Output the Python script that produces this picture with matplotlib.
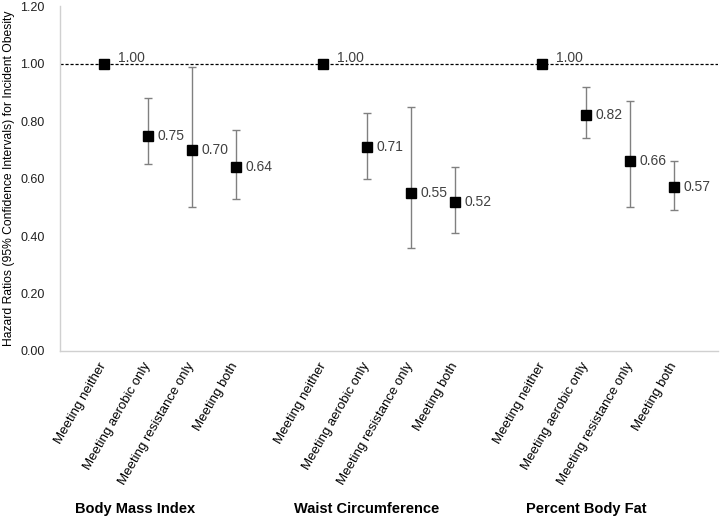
import matplotlib.pyplot as plt

plt.rcParams['font.family'] = ['Liberation Sans', 'DejaVu Sans']

# data
groups = ["Body Mass Index", "Waist Circumference", "Percent Body Fat"]
categories = ["Meeting neither", "Meeting aerobic only", "Meeting resistance only", "Meeting both"]
hr_bmi = [1.00, 0.75, 0.70, 0.64]
lo_bmi = [1.00, 0.65, 0.50, 0.53]
hi_bmi = [1.00, 0.88, 0.99, 0.77]
hr_wc = [1.00, 0.71, 0.55, 0.52]
lo_wc = [1.00, 0.60, 0.36, 0.41]
hi_wc = [1.00, 0.83, 0.85, 0.64]
hr_pbf = [1.00, 0.82, 0.66, 0.57]
lo_pbf = [1.00, 0.74, 0.50, 0.49]
hi_pbf = [1.00, 0.92, 0.87, 0.66]
yticks = [0.0, 0.2, 0.4, 0.6, 0.8, 1.0, 1.2]

fig = plt.figure(figsize=(7.25, 5.3), dpi=100)
ax = fig.add_axes([0.083, 0.338, 0.907, 0.65])

series = [(hr_bmi, lo_bmi, hi_bmi), (hr_wc, lo_wc, hi_wc), (hr_pbf, lo_pbf, hi_pbf)]
all_x = []
group_centers = [1.7, 7.0, 12.0]
for g, (hr, lo, hi) in enumerate(series):
    xs = [g * 5 + i + 1 for i in range(len(hr))]
    all_x += xs
    # only draw bars where there is an interval
    for x, h, l, u in zip(xs, hr, lo, hi):
        if u > l:
            ax.errorbar(x, h, yerr=[[h - l], [u - h]], fmt='none', ecolor='#808080',
                        elinewidth=1, capsize=3, capthick=1, zorder=2)
    ax.plot(xs, hr, linestyle='none', marker='s', markersize=7.5, color='black', zorder=3)
    for i, (x, h) in enumerate(zip(xs, hr)):
        if i == 0:
            ax.annotate("%.2f" % h, (x, h), xytext=(10, 4), textcoords='offset points',
                        ha='left', va='center', fontsize=10, color='#404040')
        else:
            ax.annotate("%.2f" % h, (x, h), xytext=(7, 0), textcoords='offset points',
                        ha='left', va='center', fontsize=10, color='#404040')
    ax.text(group_centers[g], -0.55, groups[g], transform=ax.transData, ha='center', va='center',
            fontsize=10.5, fontweight='bold')

ax.axhline(1.0, color='black', linewidth=0.9, linestyle=(0, (2.5, 1.5)), zorder=1)

ax.set_xlim(0, 15)
ax.set_ylim(0, 1.2)
ax.set_yticks(yticks)
ax.set_yticklabels(["%.2f" % t for t in yticks], fontsize=9, color='#202020')
ax.set_xticks(all_x)
ax.set_xticklabels(categories * 3, rotation=60, ha='right', va='center',
                   rotation_mode='anchor', fontsize=9.5)
ax.tick_params(axis='both', length=0)
ax.tick_params(axis='y', pad=11)
ax.tick_params(axis='x', pad=9)

for side in ['top', 'right']:
    ax.spines[side].set_visible(False)
for side in ['left', 'bottom']:
    ax.spines[side].set_color('#d0d0d0')
    ax.spines[side].set_linewidth(1)

ax.set_ylabel("Hazard Ratios (95% Confidence Intervals) for Incident Obesity", fontsize=8.7, va='center')
ax.yaxis.set_label_coords(-0.078, 0.5)

fig.savefig("out.png", dpi=100)
